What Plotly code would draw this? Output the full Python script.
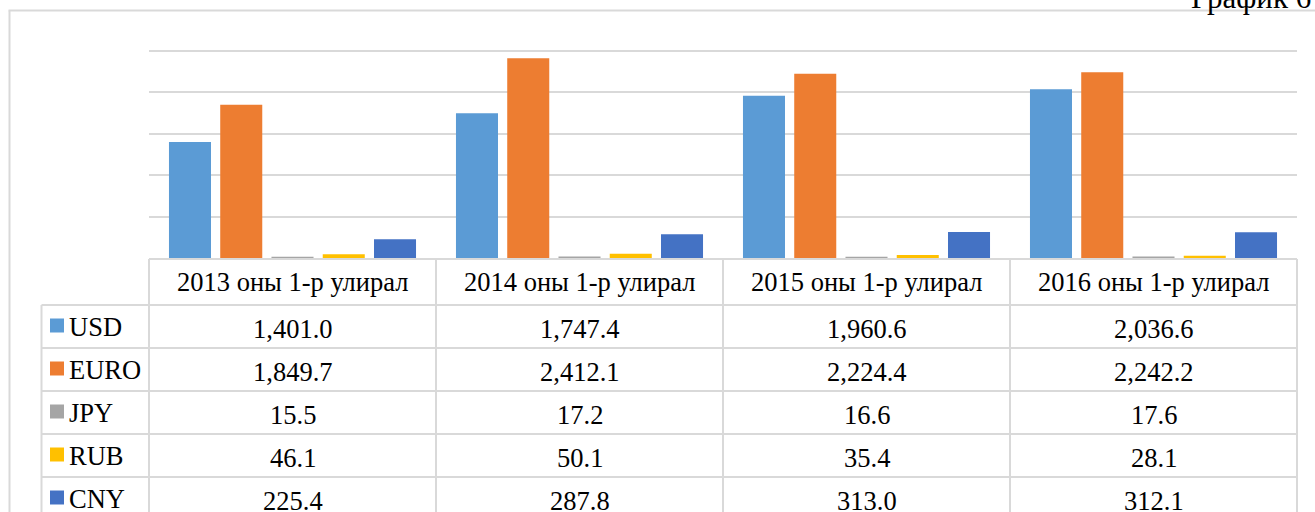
import plotly.graph_objects as go

categories = ["2013 оны 1-р улирал", "2014 оны 1-р улирал", "2015 оны 1-р улирал", "2016 оны 1-р улирал"]
series_names = ["USD", "EURO", "JPY", "RUB", "CNY"]
usd = [1401.0, 1747.4, 1960.6, 2036.6]
euro = [1849.7, 2412.1, 2224.4, 2242.2]
jpy = [15.5, 17.2, 16.6, 17.6]
rub = [46.1, 50.1, 35.4, 28.1]
cny = [225.4, 287.8, 313.0, 312.1]
series_values = [usd, euro, jpy, rub, cny]
colors = ["#5B9BD5", "#ED7D31", "#A5A5A5", "#FFC000", "#4472C4"]
y_ticks = [0, 500, 1000, 1500, 2000, 2500]
chart_title = "График 6"

W, H = 1315, 512
FONT = "Liberation Serif"
GRID = "#d9d9d9"
FS = 26.5


def px(x):
    return x / W


def py(y):
    return 1 - y / H


# geometry (pixels)
plot_left, plot_right = 149, 1297
plot_base = 258
px_per_unit = (258 - 51) / 2500.0
y_max = 2600
plot_top = plot_base - y_max * px_per_unit
leg_left = 41.5
header_top = 259
header_bot = 305
row_h = 43.0

fig = go.Figure()
for name, vals, col in zip(series_names, series_values, colors):
    fig.add_trace(go.Bar(x=categories, y=vals, name=name, marker=dict(color=col, line=dict(width=0))))

shapes = []
annotations = []

# outer frame (left and top)
shapes.append(dict(type="line", xref="paper", yref="paper", x0=px(9.5), x1=px(9.5), y0=py(530), y1=py(10.5),
                   line=dict(color=GRID, width=2)))
shapes.append(dict(type="line", xref="paper", yref="paper", x0=px(8.5), x1=px(1330), y0=py(10.5), y1=py(10.5),
                   line=dict(color=GRID, width=2)))

# table lines
ncols = len(categories)
colw = (plot_right - plot_left) / ncols
col_edges = [plot_left + i * colw for i in range(ncols + 1)]
row_edges = [header_bot + i * row_h for i in range(len(series_names) + 1)]

shapes.append(dict(type="line", xref="paper", yref="paper", x0=px(plot_left), x1=px(plot_right),
                   y0=py(header_top), y1=py(header_top), line=dict(color=GRID, width=2)))
for yb in row_edges:
    shapes.append(dict(type="line", xref="paper", yref="paper", x0=px(leg_left), x1=px(plot_right),
                       y0=py(yb), y1=py(yb), line=dict(color=GRID, width=2)))
for xe in col_edges:
    shapes.append(dict(type="line", xref="paper", yref="paper", x0=px(xe), x1=px(xe),
                       y0=py(header_top), y1=py(530), line=dict(color=GRID, width=2)))
shapes.append(dict(type="line", xref="paper", yref="paper", x0=px(leg_left), x1=px(leg_left),
                   y0=py(header_bot), y1=py(530), line=dict(color=GRID, width=2)))

# header text
for i, c in enumerate(categories):
    annotations.append(dict(xref="paper", yref="paper", x=px((col_edges[i] + col_edges[i + 1]) / 2),
                            y=py((header_top + header_bot) / 2), text=c, showarrow=False,
                            xanchor="center", yanchor="middle",
                            font=dict(family=FONT, size=FS, color="#000000")))

# rows
for r, (name, vals, col) in enumerate(zip(series_names, series_values, colors)):
    yc = (row_edges[r] + row_edges[r + 1]) / 2
    shapes.append(dict(type="rect", xref="paper", yref="paper", x0=px(50), x1=px(64),
                       y0=py(yc - 8), y1=py(yc + 6), fillcolor=col, line=dict(width=0)))
    annotations.append(dict(xref="paper", yref="paper", x=px(67), y=py(yc), text=name, showarrow=False,
                            xanchor="left", yanchor="middle",
                            font=dict(family=FONT, size=FS, color="#000000")))
    for i, v in enumerate(vals):
        annotations.append(dict(xref="paper", yref="paper", x=px((col_edges[i] + col_edges[i + 1]) / 2),
                                y=py(yc + 2), text=f"{v:,.1f}", showarrow=False,
                                xanchor="center", yanchor="middle",
                                font=dict(family=FONT, size=FS, color="#000000")))

# title (cut at top edge, as in the reference)
annotations.append(dict(xref="paper", yref="paper", x=px(1189), y=py(17), text=chart_title, showarrow=False,
                        xanchor="left", yanchor="bottom",
                        font=dict(family=FONT, size=31, color="#000000")))

fig.update_layout(
    width=W, height=H,
    margin=dict(l=0, r=0, t=0, b=0),
    paper_bgcolor="white", plot_bgcolor="white",
    barmode="group", bargap=0.107, bargroupgap=0.18,
    showlegend=False,
    xaxis=dict(domain=[px(plot_left), px(plot_right)], showticklabels=False, showgrid=False,
               zeroline=False, showline=False, ticks=""),
    yaxis=dict(domain=[py(plot_base), py(plot_top)], range=[0, y_max], tickvals=y_ticks,
               showticklabels=False, showgrid=True, gridcolor=GRID, gridwidth=2,
               zeroline=False, showline=False, ticks=""),
    shapes=shapes,
    annotations=annotations,
    font=dict(family=FONT),
)

fig.write_html("out.html", config={"displayModeBar": False, "staticPlot": True},
               post_script="document.body.style.margin='0';document.body.style.overflow='hidden';")
